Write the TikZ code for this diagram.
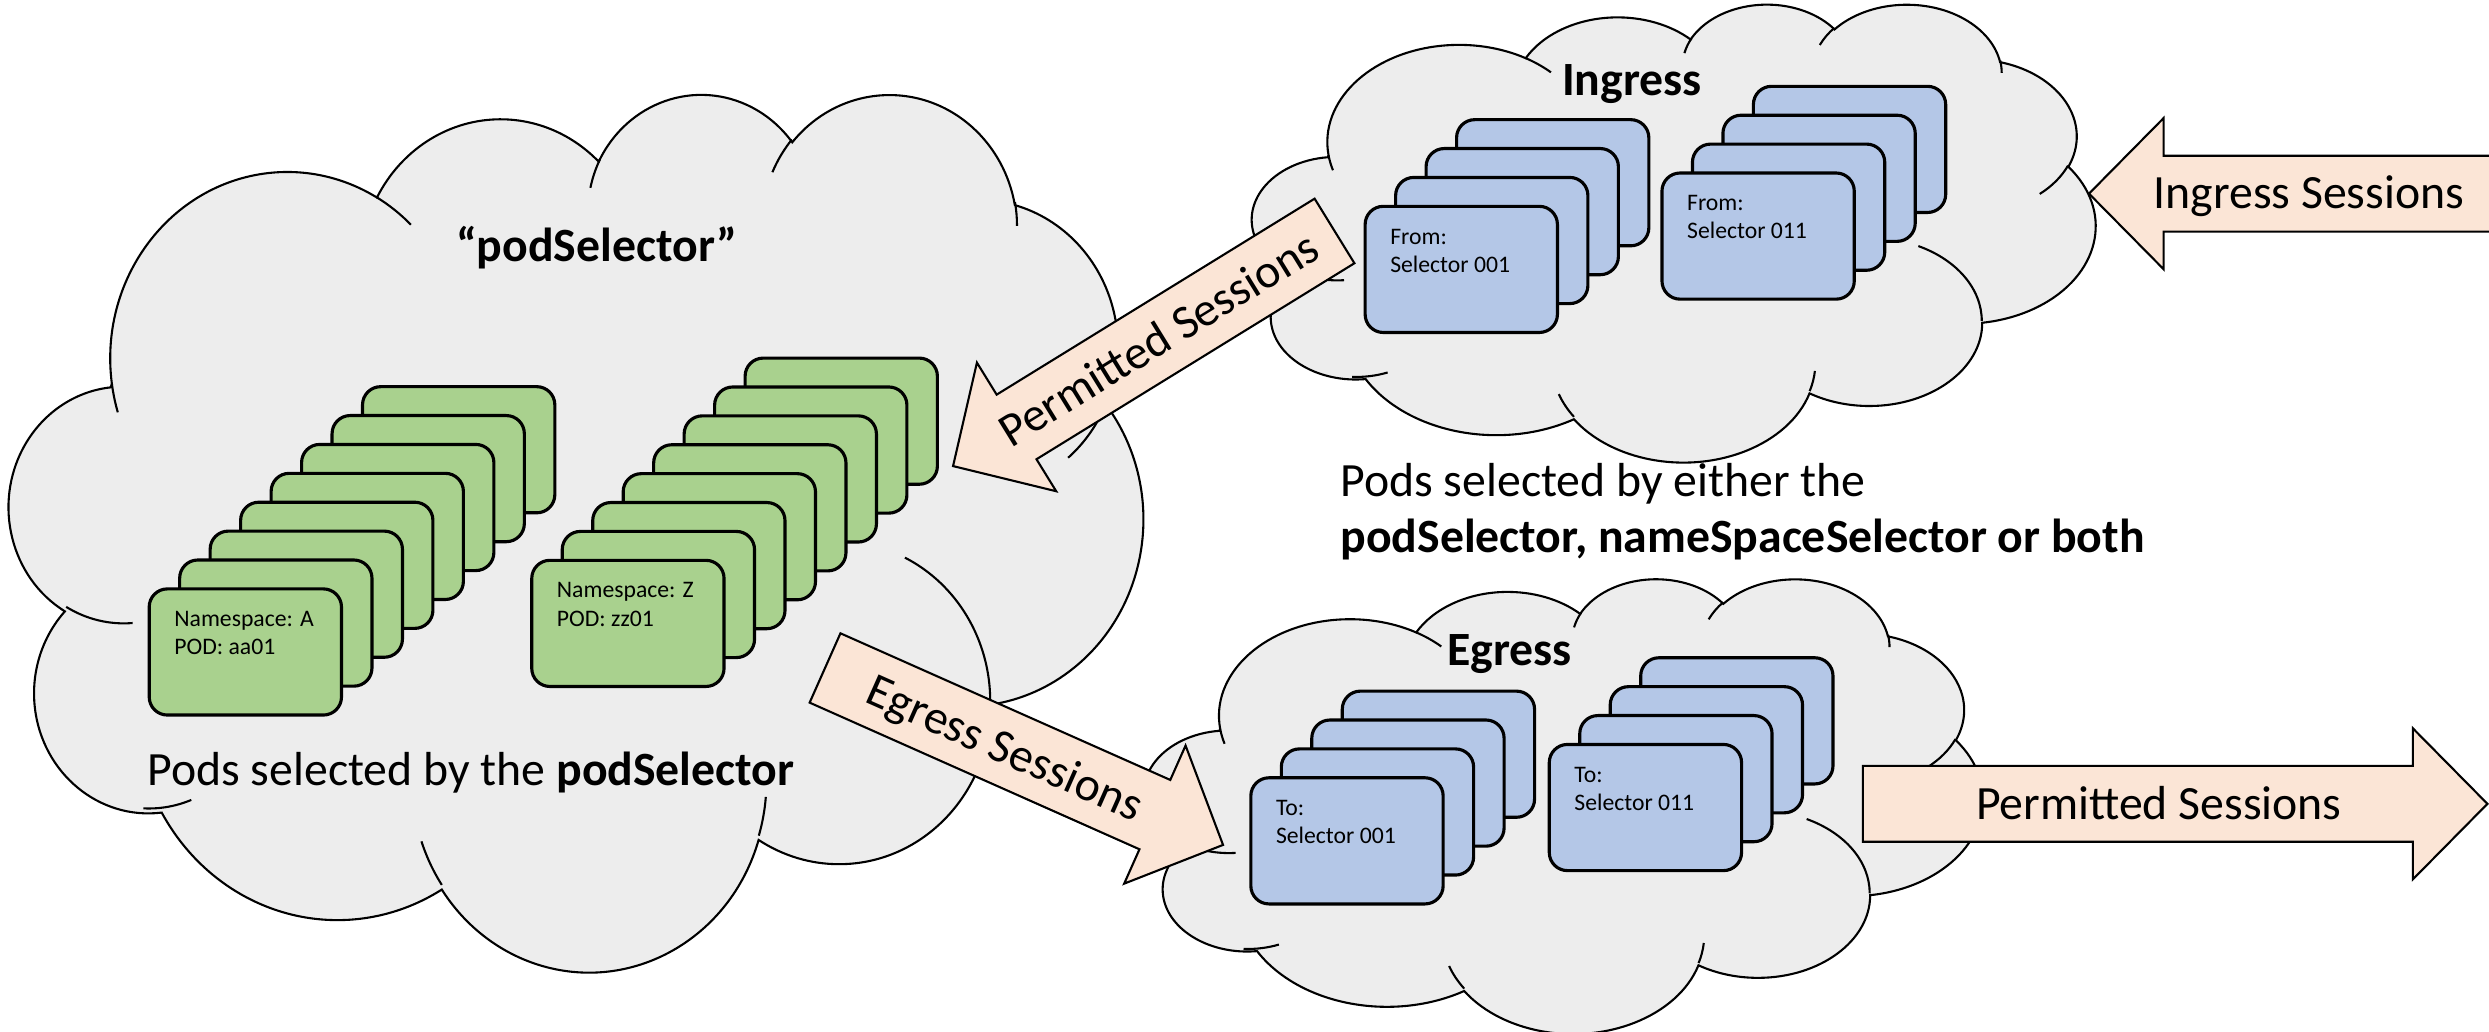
\documentclass[tikz,border=0pt]{standalone}
\usepackage{fontspec}
\setmainfont{Carlito}
\usetikzlibrary{calc}
\definecolor{cloudgray}{RGB}{237,237,237}
\definecolor{podgreen}{RGB}{169,209,142}
\definecolor{selblue}{RGB}{180,199,231}
\definecolor{arrowpeach}{RGB}{251,229,214}

\begin{document}
\begin{tikzpicture}[
  x=0.016cm, y=-0.016cm,
  declare function={
    pang(\pa,\pw,\ph)=atan2(sin(\pa)/\ph,cos(\pa)/\pw);
    pdel(\pa,\pb,\pw,\ph)=mod(pang(\pa+\pb,\pw,\ph)-pang(\pa,\pw,\ph)+720,360);
  },
  bigfont/.style={font=\fontsize{13.7}{16.7}\selectfont, inner sep=0pt},
  bigbold/.style={font=\fontsize{13.7}{16.7}\selectfont\bfseries, inner sep=0pt},
  cloudshape/.style={draw=black, fill=cloudgray, line width=0.6pt},
  cloudline/.style={draw=black, line width=0.6pt},
  card/.style={draw, line width=0.9pt, rounded corners=5.2pt, minimum width=1.939cm,
    minimum height=1.272cm, inner sep=0pt, anchor=north west},
  podcard/.style={card, fill=podgreen},
  selcard/.style={card, fill=selblue},
  cardlabel/.style={anchor=north west, inner sep=0pt, align=left,
    font=\fontsize{6.8}{8.1}\selectfont},
  arrowbody/.style={draw=black, fill=arrowpeach, line width=0.6pt},
  arrowlabel/.style={bigfont, text height=8.8pt, text depth=0pt},
  pics/pptcloud/.style={code={
    \path[cloudshape] (39,143.7)
      foreach \rw/\rh/\st/\sw in {67.53/91.90/-190.4875/123.7805,
        53.33/72.67/-144.1024/89.9452, 43.65/59.45/-145.8079/99.7230,
        48.57/65.95/-130.9861/117.2417, 53.33/72.73/-78.7089/109.0269,
        67.75/92.20/-46.2673/130.2690, 57.85/78.67/0.6250/114.0333,
        67.52/92.15/22.4516/115.1726, 77.20/105.43/66.2426/75.7110,
        43.60/59.18/-274.9421/146.7356, 43.45/59.45/-246.8285/152.5189}
      { arc[x radius=\rw, y radius=\rh, start angle={pang(\st,\rw,\rh)},
            delta angle={pdel(\st,\sw,\rw,\rh)}] }
      -- cycle;
    \foreach \mx/\my/\rw/\rh/\st/\sw in {46.93/261.77/43.45/59.45/86.7420/26.4295,
        69.28/348.99/43.60/59.18/73.6105/18.4077, 164.78/390.90/67.52/92.15/137.6242/17.3959,
        288.27/347.51/67.52/92.15/6.4533/15.9952, 341.29/229.54/57.85/78.67/-70.2924/70.9174,
        417.98/153.54/53.33/72.73/30.3180/27.7515, 383.24/54.26/48.57/65.95/-13.7443/14.8589,
        290.78/39.52/48.57/65.95/-149.1815/18.1954, 221.41/47.20/43.65/59.45/-163.4943/17.6864,
        140.00/51.92/67.53/91.90/-66.7070/12.3194, 41.27/157.89/67.53/91.90/157.6544/11.8582}
      \draw[cloudline] (\mx,\my) arc[x radius=\rw, y radius=\rh,
        start angle={pang(\st,\rw,\rh)}, delta angle={pdel(\st,\sw,\rw,\rh)}];
  }},
  pics/blockarrow/.style={code={
    \draw[arrowbody] (0,-23.9) -- ({#1-47},-23.9) -- ({#1-47},-47.6) -- (#1,0)
      -- ({#1-47},47.6) -- ({#1-47},23.9) -- (0,23.9) -- cycle;
  }},
]
  \useasboundingbox (0,0) rectangle (1568,650);
  \fill[white] (0,0) rectangle (1568,650);
  \clip (0,0) rectangle (1568,650);

  % Clouds
  \pic[xscale=714/432, yscale=552/432] (podcloud) at (6,58) {pptcloud};
  \pic[xscale=531/432, yscale=288/432] (ingcloud) at (789,2) {pptcloud};
  \pic[xscale=528/432, yscale=286/432] (egrcloud) at (721,364) {pptcloud};

  % Pods picked by the podSelector
  \foreach \i in {7,...,0}
    \node[podcard] (nsa\i) at ({93+19.2*\i},{370-18.2*\i}) {};
  \node[cardlabel] (nsalabel) at ($(nsa0.north west)+(16.4,14.7)$) {Namespace: A\\POD: aa01};
  \foreach \i in {7,...,0}
    \node[podcard] (nsz\i) at ({334+19.2*\i},{352-18.2*\i}) {};
  \node[cardlabel] (nszlabel) at ($(nsz0.north west)+(16.4,14.7)$) {Namespace: Z\\POD: zz01};

  % Ingress selectors
  \foreach \i in {3,...,0}
    \node[selcard] (ingA\i) at ({859+19.2*\i},{129-18.2*\i}) {};
  \node[cardlabel] (ingAlabel) at ($(ingA0.north west)+(16.4,14.7)$) {From:\\Selector 001};
  \foreach \i in {3,...,0}
    \node[selcard] (ingB\i) at ({1046+19.2*\i},{108-18.2*\i}) {};
  \node[cardlabel] (ingBlabel) at ($(ingB0.north west)+(16.4,14.7)$) {From:\\Selector 011};

  % Egress selectors
  \foreach \i in {3,...,0}
    \node[selcard] (egrA\i) at ({787+19.2*\i},{489-18.2*\i}) {};
  \node[cardlabel] (egrAlabel) at ($(egrA0.north west)+(16.4,14.7)$) {To:\\Selector 001};
  \foreach \i in {3,...,0}
    \node[selcard] (egrB\i) at ({975+19.2*\i},{468-18.2*\i}) {};
  \node[cardlabel] (egrBlabel) at ($(egrB0.north west)+(16.4,14.7)$) {To:\\Selector 011};

  % Titles and captions
  \node[bigbold, anchor=base] (podtitle) at (376,165) {“podSelector”};
  \node[bigfont, anchor=base west] (podcaption) at (92.5,495) {Pods selected by the \textbf{podSelector}};
  \node[bigbold, anchor=base] (ingtitle) at (1028,60) {Ingress};
  \node[bigbold, anchor=base] (egrtitle) at (951,419) {Egress};
  \node[bigfont, anchor=base west] (selnote) at (844,313) {Pods selected by either the};
  \node[bigbold, anchor=base west] (selnotebold) at (844,348) {podSelector, nameSpaceSelector or both};

  % Session arrows
  \coordinate (permtail) at (840.7,145.5);
  \coordinate (permtip) at (600.4,293.6);
  \coordinate (egrtail) at (519.75,420.8);
  \coordinate (egrtip) at (770.5,532.3);
  \coordinate (ingtail) at (1600,122);
  \coordinate (outtail) at (1173.5,506.4);
  \pic[rotate=211.65] at (permtail) {blockarrow=282.3};
  \pic[rotate=-23.97] at (egrtail) {blockarrow=274.4};
  \pic[rotate=180] at (ingtail) {blockarrow=284};
  \pic at (outtail) {blockarrow=393.5};
  \node[arrowlabel, rotate=31.65] (permlabel) at ($(permtail)!0.46!(permtip)$) {Permitted Sessions};
  \node[arrowlabel, rotate=-23.97] (egrlabel) at ($(egrtail)!0.453!(egrtip)$) {Egress Sessions};
  \node[arrowlabel] (inglabel) at (1454.6,122) {Ingress Sessions};
  \node[arrowlabel] (outlabel) at (1360,506.4) {Permitted Sessions};
\end{tikzpicture}
\end{document}
